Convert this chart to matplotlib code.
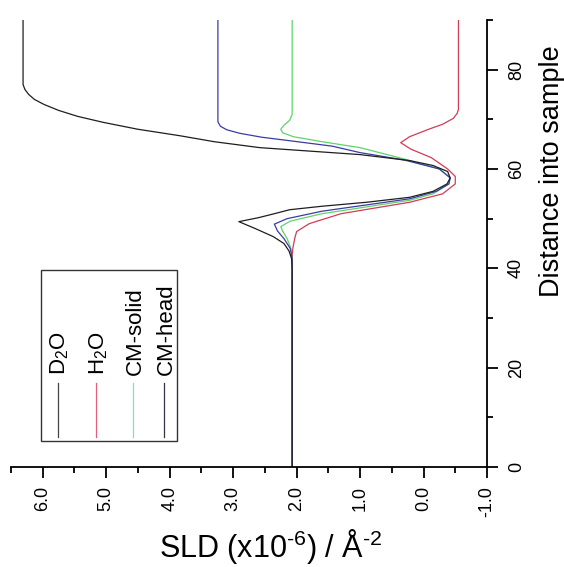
import numpy as np
import matplotlib

matplotlib.use("Agg")
import matplotlib.pyplot as plt
from matplotlib.lines import Line2D
from matplotlib.patches import Rectangle
from matplotlib.ticker import MultipleLocator, FormatStrFormatter

plt.rcParams["font.family"] = ["Liberation Sans", "DejaVu Sans"]
plt.rcParams["mathtext.fontset"] = "custom"
plt.rcParams["mathtext.rm"] = "Liberation Sans"
plt.rcParams["mathtext.it"] = "Liberation Sans"
plt.rcParams["axes.unicode_minus"] = False

W, H = 564, 567

# ----------------------------------------------------------------------------
# SLD profiles (distance into sample, SLD x1e-6 / A^-2)
# ----------------------------------------------------------------------------
d2o_dist = [0, 40, 42, 43.5, 45, 46.4, 48, 49.4, 50.2, 51, 51.8, 52.5, 53.3,
            54.3, 55.5, 57, 58.2, 59.5, 60.7, 61.7, 62.9, 64.3, 65.5, 66.7,
            68.0, 69.4, 70.6, 71.8, 73.0, 74.0, 75.0, 76.0, 77, 90]
d2o_sld = [2.07, 2.07, 2.08, 2.12, 2.2, 2.37, 2.65, 2.91, 2.6, 2.35, 2.11, 1.6,
           0.9, 0.22, -0.15, -0.37, -0.42, -0.38, -0.15, 0.22, 1.0, 2.58, 3.3,
           3.84, 4.5, 5.05, 5.45, 5.75, 5.98, 6.13, 6.22, 6.28, 6.31, 6.31]

h2o_dist = [0, 42, 44, 46, 47.4, 49, 51, 53.3, 55, 57, 58.5, 60, 62.3, 64,
            65.3, 66.5, 68, 69, 70.2, 71.2, 72, 90]
h2o_sld = [2.07, 2.07, 2.06, 2.03, 2.0, 1.8, 1.3, 0.22, -0.3, -0.5, -0.5,
           -0.38, -0.12, 0.2, 0.36, 0.22, -0.08, -0.3, -0.47, -0.53, -0.55,
           -0.55]

solid_dist = [0, 42, 44, 46, 47.5, 48.4, 49.5, 51, 53.7, 55, 57, 58.3, 60, 62,
              64.3, 65.5, 66.5, 67.3, 68.0, 68.8, 69.8, 71, 90]
solid_sld = [2.07, 2.07, 2.09, 2.15, 2.22, 2.25, 2.1, 1.6, 0.22, -0.15, -0.4,
             -0.42, -0.25, 0.3, 1.0, 1.6, 2.05, 2.22, 2.25, 2.2, 2.11, 2.07,
             2.07]

head_dist = [0, 42, 44, 46, 47.5, 48.9, 50, 51.5, 54.0, 55.5, 57, 58.2, 60,
             61.8, 63.3, 64.6, 65.6, 66.4, 67.2, 67.9, 68.6, 69.5, 90]
head_sld = [2.07, 2.07, 2.1, 2.2, 2.3, 2.35, 2.15, 1.6, 0.22, -0.2, -0.4, -0.42,
            -0.25, 0.3, 1.0, 1.44, 2.05, 2.55, 2.9, 3.1, 3.2, 3.24, 3.24]

series_labels = ["D$_2$O", "H$_2$O", "CM-solid", "CM-head"]
series_colors = ["#1e1e1e", "#d23c55", "#5fd46a", "#3b3ba6"]
legend_colors = ["#444444", "#e0607a", "#8fd8c0", "#333344"]

x_ticks = [6.0, 5.0, 4.0, 3.0, 2.0, 1.0, 0.0, -1.0]
y_ticks = [0, 20, 40, 60, 80]

fig = plt.figure(figsize=(W / 100, H / 100), dpi=100)
ax = fig.add_axes([11 / W, 1 - 467 / H, 476 / W, 447 / H])

profiles = [(d2o_sld, d2o_dist), (h2o_sld, h2o_dist),
            (solid_sld, solid_dist), (head_sld, head_dist)]
# draw so the black D2O line ends on top, as in the reference
for i in [1, 2, 3, 0]:
    sld, dist = profiles[i]
    ax.plot(sld, dist, color=series_colors[i], lw=0.9, solid_joinstyle="round")

ax.set_xlim(6.5, -1.0)
ax.set_ylim(0, 90)
for side in ("top", "left"):
    ax.spines[side].set_visible(False)
for side in ("bottom", "right"):
    ax.spines[side].set_linewidth(1.3)

ax.set_xticks(x_ticks)
ax.xaxis.set_minor_locator(MultipleLocator(0.5))
ax.xaxis.set_major_formatter(FormatStrFormatter("%.1f"))
ax.yaxis.tick_right()
ax.set_yticks(y_ticks)
ax.yaxis.set_minor_locator(MultipleLocator(10))

ax.tick_params(axis="x", which="major", direction="out", length=8, width=1.3,
               labelsize=13, labelrotation=90, pad=5.5)
ax.tick_params(axis="x", which="minor", direction="out", length=4.5, width=1.3)
ax.tick_params(axis="y", which="major", direction="out", length=8, width=1.3,
               labelsize=13, labelrotation=90, pad=7, left=False, right=True)
ax.tick_params(axis="y", which="minor", direction="out", length=4.5, width=1.3,
               left=False, right=True)
for lbl in ax.get_yticklabels():
    lbl.set_va("center")

# axis titles
fig.text(159 / W, 1 - 557 / H, "SLD (x10$^{\u20106}$) / Å$^{\u20102}$",
         fontsize=22, ha="left", va="baseline")
fig.text(559 / W, 1 - 297 / H, "Distance into sample", fontsize=19.5,
         rotation=90, rotation_mode="anchor", ha="left", va="baseline")

# legend, drawn rotated like the rest of the figure
fig.patches.append(Rectangle((41 / W, 1 - 441 / H), 136 / W, 171 / H,
                             transform=fig.transFigure, fill=False,
                             edgecolor="#333333", lw=1.0))
handle_x = [57.7, 96, 133, 164]
for hx, lab, col in zip(handle_x, series_labels, legend_colors):
    fig.lines.append(Line2D([hx / W, hx / W], [1 - 437 / H, 1 - 383 / H],
                            transform=fig.transFigure, color=col, lw=0.9))
    fig.text((hx + 8) / W, 1 - 375 / H, lab, fontsize=16, rotation=90,
             rotation_mode="anchor", ha="left", va="baseline")

fig.savefig("out.png", dpi=100, facecolor="white")
